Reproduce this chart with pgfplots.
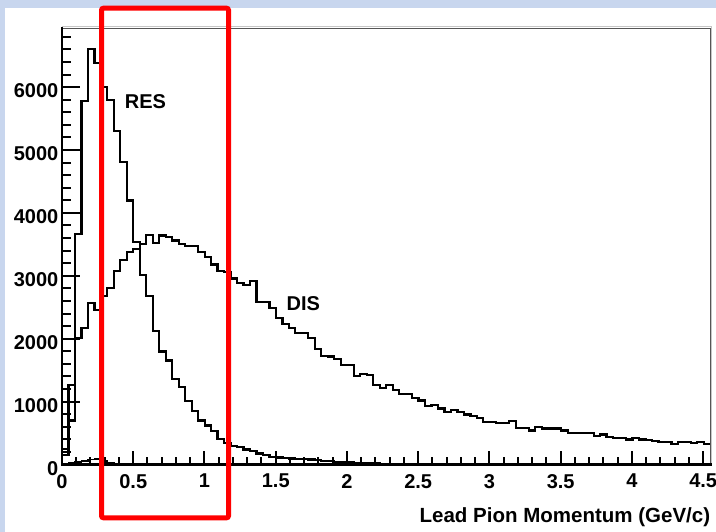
\documentclass[border=0pt]{standalone}
\usepackage{fontspec}
\setmainfont{Liberation Sans}
\usepackage{pgfplots}
\pgfplotsset{compat=1.18}
\usepackage{pgfplotstable}
\definecolor{slidebg}{RGB}{200,214,238}
\definecolor{framegray}{RGB}{85,85,85}

\pgfplotstableread{
x dis res low
0 0 0 0
0 250 150 10
0.0455 1270 700 25
0.091 2010 3670 40
0.1365 2170 5780 60
0.182 2565 6612 80
0.2275 2455 6386 90
0.273 2684 6006 60
0.3185 2810 5790 30
0.364 3070 5304 15
0.4095 3245 4804 8
0.455 3380 4196 0
0.5005 3432 3535 0
0.546 3500 3010 0
0.5915 3650 2676 0
0.637 3527 2125 0
0.6825 3640 1795 0
0.728 3615 1655 0
0.7735 3560 1360 0
0.819 3510 1227 0
0.8645 3474 1008 0
0.91 3474 850 0
0.9555 3380 700 0
1.001 3300 620 0
1.0465 3180 530 0
1.092 3080 410 0
1.1375 3055 345 0
1.183 2957 300 0
1.2285 2890 275 0
1.274 2851 240 0
1.3195 2915 212 0
1.365 2589 175 0
1.4105 2589 150 0
1.456 2483 125 0
1.5015 2324 110 0
1.547 2229 100 0
1.5925 2166 95 0
1.638 2087 90 0
1.6835 2087 85 0
1.729 2008 80 0
1.7745 1840 70 0
1.82 1730 60 0
1.8655 1718 50 0
1.911 1680 45 0
1.9565 1585 40 0
2.002 1585 35 0
2.0475 1402 30 0
2.093 1440 25 0
2.1385 1418 20 0
2.184 1269 15 0
2.2295 1217 12 0
2.275 1259 10 0
2.3205 1190 8 0
2.366 1122 6 0
2.4115 1122 5 0
2.457 1058 4 0
2.5025 1016 3 0
2.548 927 2 0
2.5935 943 2 0
2.639 889 1 0
2.6845 837 1 0
2.73 864 0 0
2.7755 837 0 0
2.821 794 0 0
2.8665 769 0 0
2.912 742 0 0
2.9575 679 0 0
3.003 679 0 0
3.0485 663 0 0
3.094 663 0 0
3.1395 690 0 0
3.185 580 0 0
3.2305 584 0 0
3.276 541 0 0
3.3215 595 0 0
3.367 573 0 0
3.4125 573 0 0
3.458 573 0 0
3.5035 541 0 0
3.549 500 0 0
3.5945 500 0 0
3.64 500 0 0
3.6855 500 0 0
3.731 452 0 0
3.7765 478 0 0
3.822 437 0 0
3.8675 415 0 0
3.913 426 0 0
3.9585 399 0 0
4.004 426 0 0
4.0495 399 0 0
4.095 389 0 0
4.1405 373 0 0
4.186 362 0 0
4.2315 362 0 0
4.277 331 0 0
4.3225 362 0 0
4.368 362 0 0
4.4135 342 0 0
4.459 362 0 0
4.5045 331 0 0
4.55 331 0 0
}\histdata

\begin{document}
\begin{tikzpicture}
\path[use as bounding box] (0,0) rectangle (716bp,532bp);
\fill[slidebg] (0,0) rectangle (716bp,532bp);
\fill[white] (5bp,0) rectangle (716bp,524bp);
% frame (top and right)
\draw[gray!45, line width=1bp] (62bp,505bp) -- (711.8bp,505bp) -- (711.8bp,67.5bp);
\draw[framegray, line width=1.2bp] (62bp,503.7bp) -- (710.3bp,503.7bp) -- (710.3bp,67.5bp);
\begin{axis}[
  at={(62bp,67.5bp)}, anchor=south west, scale only axis,
  width=648.3bp, height=436.2bp,
  xmin=0, xmax=4.55, ymin=0, ymax=6935,
  axis x line*=bottom, axis y line*=left,
  axis line style={line width=2.4bp, line cap=rect, -},
  tick align=inside,
  xtick={0,0.5,1,1.5,2,2.5,3,3.5,4,4.5},
  xticklabels={0,0.5,1,1.5,2,2.5,3,3.5,4,4.5},
  minor xtick={0.1,0.2,0.3,0.4,0.6,0.7,0.8,0.9,1.1,1.2,1.3,1.4,1.6,1.7,1.8,1.9,2.1,2.2,2.3,2.4,2.6,2.7,2.8,2.9,3.1,3.2,3.3,3.4,3.6,3.7,3.8,3.9,4.1,4.2,4.3,4.4},
  ytick={0,1000,2000,3000,4000,5000,6000},
  yticklabels={0,1000,2000,3000,4000,5000,6000},
  minor ytick={200,400,600,800,1200,1400,1600,1800,2200,2400,2600,2800,3200,3400,3600,3800,4200,4400,4600,4800,5200,5400,5600,5800,6200,6400,6600,6800},
  major tick length=13bp, minor tick length=7bp,
  every tick/.append style={line width=2bp, black},
  ticklabel style={font=\bfseries\fontsize{20bp}{24bp}\selectfont},
  xticklabel style={inner sep=0pt, yshift=-9.5bp},
  yticklabel style={inner sep=0pt, xshift=-3.5bp, yshift=-4bp},
  xlabel={Lead Pion Momentum (GeV/c)},
  xlabel style={at={(rel axis cs:1,0)}, anchor=base east, inner sep=0pt, yshift=-57.5bp, font=\bfseries\fontsize{20.5bp}{24bp}\selectfont},
]
\addplot[const plot, black, line width=2.2bp] table[x=x, y=dis] {\histdata};
\addplot[const plot, black, line width=2.2bp] table[x=x, y=res] {\histdata};
\addplot[const plot, black, line width=1.8bp] table[x=x, y=low] {\histdata};
\node[font=\bfseries\fontsize{20bp}{24bp}\selectfont] at (axis cs:0.586,5768) {RES};
\node[font=\bfseries\fontsize{20bp}{24bp}\selectfont] at (axis cs:1.694,2556) {DIS};
\end{axis}
\begin{axis}[
  at={(62bp,67.5bp)}, anchor=south west, scale only axis,
  width=648.3bp, height=436.2bp,
  xmin=0, xmax=4.55, ymin=0, ymax=6935,
  axis x line*=bottom, axis y line*=left,
  axis line style={draw=none},
  tick align=inside,
  xtick=\empty,
  ytick={0,1000,2000,3000,4000,5000,6000},
  yticklabels={},
  minor ytick={200,400,600,800,1200,1400,1600,1800,2200,2400,2600,2800,3200,3400,3600,3800,4200,4400,4600,4800,5200,5400,5600,5800,6200,6400,6600,6800},
  major tick length=18bp, minor tick length=9bp,
  every tick/.append style={line width=2bp, black},
]
\end{axis}
\draw[red, line width=5bp, rounded corners=2bp] (101.5bp,14.2bp) rectangle (228.5bp,523.8bp);
\end{tikzpicture}
\end{document}
